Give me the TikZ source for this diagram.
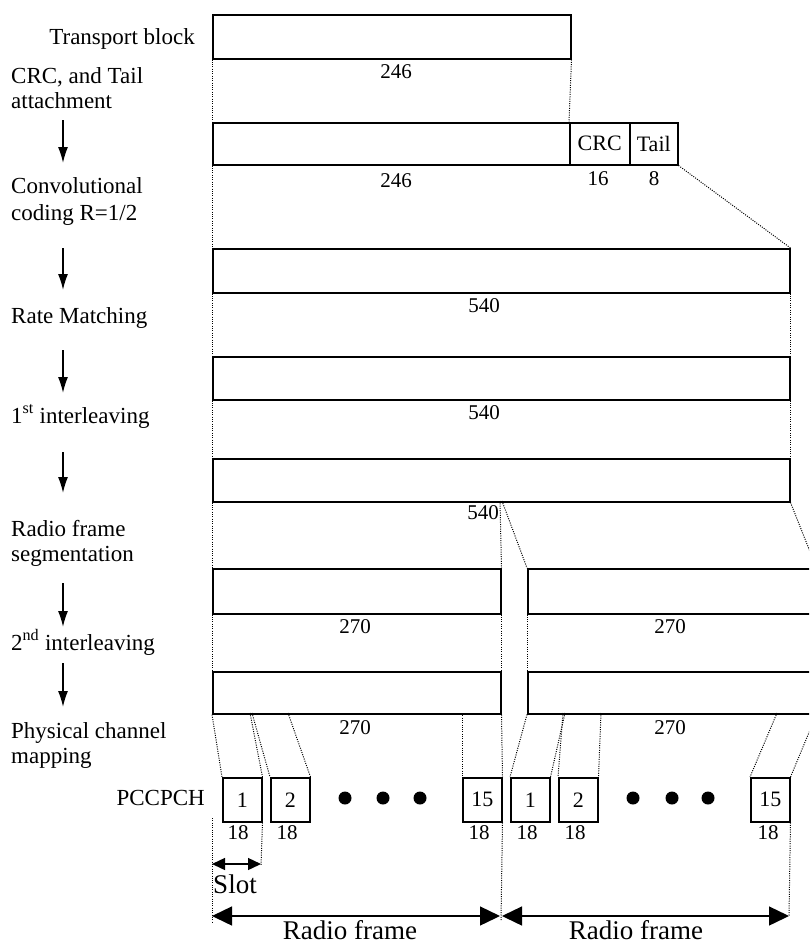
\documentclass[tikz,border=0pt]{standalone}
\usepackage{fontspec}
\setmainfont{Liberation Serif}
\usetikzlibrary{arrows.meta,calc}
\begin{document}
\begin{tikzpicture}[x=1pt,y=-1pt,
  blk/.style={draw,line width=1.5pt,rectangle,inner sep=0pt,anchor=north west,font=\fontsize{22}{24}\selectfont},
  dt/.style={line width=1pt,dash pattern=on 1pt off 1.3pt},
  lab/.style={font=\fontsize{23}{26}\selectfont,inner sep=0pt},
  num/.style={font=\fontsize{21}{24}\selectfont,inner sep=0pt},
  big/.style={font=\fontsize{27}{30}\selectfont,inner sep=0pt},
  flow/.style={line width=1.4pt,-{Latex[length=16pt,width=10pt]}},
  span/.style={line width=1.4pt,{Triangle[length=20pt,width=19pt]}-{Triangle[length=20pt,width=19pt]}},
  slotspan/.style={line width=1.4pt,{Triangle[length=13pt,width=12pt]}-{Triangle[length=13pt,width=12pt]}},
  dotn/.style={circle,fill,inner sep=0pt,minimum size=13pt}]
\clip (0,0) rectangle (809,945);
% boxes
\node[blk,minimum width=358pt,minimum height=44pt] (tb) at (212,14) {};
\node[blk,minimum width=357pt,minimum height=42pt] (r2) at (212,122) {};
\node[blk,minimum width=60pt,minimum height=42pt] (crc) at (569,122) {CRC};
\node[blk,minimum width=48pt,minimum height=42pt] (tail) at (629,122) {Tail};
\node[blk,minimum width=577pt,minimum height=44pt] (r3) at (212,248) {};
\node[blk,minimum width=577pt,minimum height=43pt] (r4) at (212,356) {};
\node[blk,minimum width=577pt,minimum height=43pt] (r5) at (212,458) {};
\node[blk,minimum width=288pt,minimum height=45pt] (r6a) at (212,568) {};
\node[blk,minimum width=288pt,minimum height=45pt] (r6b) at (527,568) {};
\node[blk,minimum width=288pt,minimum height=42pt] (r7a) at (212,671) {};
\node[blk,minimum width=288pt,minimum height=42pt] (r7b) at (527,671) {};
\foreach \n/\x/\t in {s1a/222/1,s2a/270/2,s15a/462/15,s1b/510/1,s2b/558/2,s15b/750/15}
  \node[blk,minimum width=39pt,minimum height=44pt] (\n) at (\x,777) {\t};
% left labels
\node[lab,anchor=base east] (ltb) at (195,44) {Transport block};
\node[lab,anchor=base west] (lcrc1) at (11,83) {CRC, and Tail};
\node[lab,anchor=base west] (lcrc2) at (11,108) {attachment};
\node[lab,anchor=base west] (lcc1) at (11,193) {Convolutional};
\node[lab,anchor=base west] (lcc2) at (11,220) {coding R=1/2};
\node[lab,anchor=base west] (lrm) at (11,323) {Rate Matching};
\node[lab,anchor=base west] (li1) at (11,423) {1\textsuperscript{st} interleaving};
\node[lab,anchor=base west] (lrf1) at (11,536) {Radio frame};
\node[lab,anchor=base west] (lrf2) at (11,561) {segmentation};
\node[lab,anchor=base west] (li2) at (11,650) {2\textsuperscript{nd} interleaving};
\node[lab,anchor=base west] (lpc1) at (11,738) {Physical channel};
\node[lab,anchor=base west] (lpc2) at (11,763) {mapping};
\node[lab,anchor=east] (lpcc) at (205,798) {PCCPCH};
% flow arrows
\foreach \i/\a/\b in {1/120/163,2/248/290,3/350/393,4/452/493,5/583/627,6/663/707}{
  \coordinate (fa\i) at (63,\a); \coordinate (fb\i) at (63,\b);
  \draw[flow] (fa\i) -- (fb\i);}
% numbers
\node[num] (n1) at (396,72) {246};
\node[num] (n2) at (396,181) {246};
\node[num] (n3) at (598,179) {16};
\node[num] (n4) at (654,179) {8};
\node[num] (n5) at (484,306) {540};
\node[num] (n6) at (484,413) {540};
\node[num,anchor=east] (n7) at (499,513) {540};
\node[num] (n8) at (355,627) {270};
\node[num] (n9) at (670,627) {270};
\node[num] (n10) at (355,728) {270};
\node[num] (n11) at (670,728) {270};
\foreach \x [count=\k] in {238,287,479,527,575,768}
  \node[num] (e\k) at (\x,833) {18};
% dots
\foreach \x [count=\k] in {345,383,420,633,672,708}
  \node[dotn] (d\k) at (\x,798) {};
% dotted connectors
\draw[dt] (tb.south west) -- (r2.north west);
\draw[dt] (tb.south east) -- (crc.north west);
\draw[dt] (r2.south west) -- (r3.north west);
\draw[dt] (tail.south east) -- (r3.north east);
\draw[dt] (r3.south west) -- (r4.north west);
\draw[dt] (r3.south east) -- (r4.north east);
\draw[dt] (r4.south west) -- (r5.north west);
\draw[dt] (r4.south east) -- (r5.north east);
\draw[dt] (r5.south west) -- (r6a.north west);
\coordinate (sg1) at (500,501);
\coordinate (sg2) at (502,501);
\draw[dt] (sg1) -- (r6a.north east);
\draw[dt] (sg2) -- (r6b.north west);
\draw[dt] (r5.south east) -- (r6b.north east);
\draw[dt] (r6a.south west) -- (r7a.north west);
\draw[dt] (r6a.south east) -- (r7a.north east);
\draw[dt] (r6b.south west) -- (r7b.north west);
% slot mapping
\coordinate (pa1) at (250,713); \coordinate (pa2) at (252,713);
\coordinate (pa3) at (288,713); \coordinate (pa4) at (462,713);
\coordinate (pb1) at (565,713); \coordinate (pb2) at (563,713);
\coordinate (pb3) at (601,713); \coordinate (pb4) at (777,713);
\draw[dt] (r7a.south west) -- (s1a.north west);
\draw[dt] (pa1) -- (s1a.north east);
\draw[dt] (pa2) -- (s2a.north west);
\draw[dt] (pa3) -- (s2a.north east);
\draw[dt] (pa4) -- (s15a.north west);
\draw[dt] (r7a.south east) -- (s15a.north east);
\draw[dt] (r7b.south west) -- (s1b.north west);
\draw[dt] (pb1) -- (s1b.north east);
\draw[dt] (pb2) -- (s2b.north west);
\draw[dt] (pb3) -- (s2b.north east);
\draw[dt] (pb4) -- (s15b.north west);
\draw[dt] (r7b.south east) -- (s15b.north east);
% bottom guides
\coordinate (g0a) at (212,818); \coordinate (g0b) at (212,923);
\coordinate (g1) at (261,865);
\coordinate (g2) at (501,920);
\coordinate (g3) at (789,916);
\draw[dt] (g0a) -- (g0b);
\draw[dt] (s1a.south east) -- (g1);
\draw[dt] (s15a.south east) -- (g2);
\draw[dt] (s15b.south east) -- (g3);
% spans
\coordinate (sl1) at (212,864); \coordinate (sl2) at (261,864);
\draw[slotspan] (sl1) -- (sl2);
\node[big] (slot) at (235,884) {Slot};
\coordinate (rf1) at (212,916); \coordinate (rf2) at (500,916);
\coordinate (rf3) at (502,916); \coordinate (rf4) at (789,916);
\draw[span] (rf1) -- (rf2);
\draw[span] (rf3) -- (rf4);
\node[big] (rfa) at (350,930) {Radio frame};
\node[big] (rfb) at (636,930) {Radio frame};
\end{tikzpicture}
\end{document}
